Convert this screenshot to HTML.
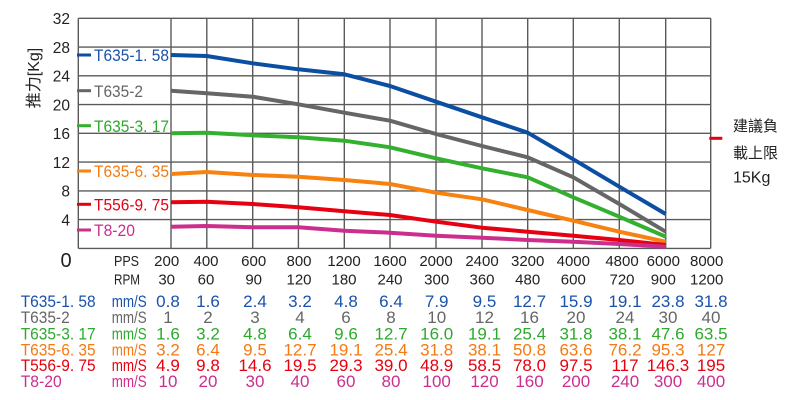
<!DOCTYPE html>
<html><head><meta charset="utf-8"><style>
html,body{margin:0;padding:0;background:#fff;}
svg{display:block;}
.tk{font-family:"Liberation Sans",Arial,sans-serif;font-size:15.5px;fill:#222;}
.ax{font-family:"Liberation Sans",Arial,sans-serif;font-size:15px;fill:#222;text-anchor:middle;}
.mono{font-family:"Liberation Sans",Arial,sans-serif;font-size:17px;}
.v{text-anchor:middle;}
</style></head><body>
<svg width="800" height="400" viewBox="0 0 800 400" xmlns="http://www.w3.org/2000/svg">
<rect width="800" height="400" fill="#fff"/>
<g stroke="#5a5a5a" stroke-width="1.4" fill="none">
<line x1="78.3" y1="18.3" x2="710.7" y2="18.3"/>
<line x1="78.3" y1="47.1" x2="710.7" y2="47.1"/>
<line x1="78.3" y1="75.8" x2="710.7" y2="75.8"/>
<line x1="78.3" y1="104.6" x2="710.7" y2="104.6"/>
<line x1="78.3" y1="133.3" x2="710.7" y2="133.3"/>
<line x1="78.3" y1="162.1" x2="710.7" y2="162.1"/>
<line x1="78.3" y1="190.9" x2="710.7" y2="190.9"/>
<line x1="78.3" y1="219.6" x2="710.7" y2="219.6"/>
<line x1="78.3" y1="248.4" x2="710.7" y2="248.4"/>
<line x1="78.3" y1="18.3" x2="78.3" y2="248.4"/>
<line x1="171" y1="18.3" x2="171" y2="248.4"/>
<line x1="206.8" y1="18.3" x2="206.8" y2="248.4"/>
<line x1="252.7" y1="18.3" x2="252.7" y2="248.4"/>
<line x1="298.4" y1="18.3" x2="298.4" y2="248.4"/>
<line x1="344.3" y1="18.3" x2="344.3" y2="248.4"/>
<line x1="390" y1="18.3" x2="390" y2="248.4"/>
<line x1="436" y1="18.3" x2="436" y2="248.4"/>
<line x1="482" y1="18.3" x2="482" y2="248.4"/>
<line x1="527.7" y1="18.3" x2="527.7" y2="248.4"/>
<line x1="573.3" y1="18.3" x2="573.3" y2="248.4"/>
<line x1="619.3" y1="18.3" x2="619.3" y2="248.4"/>
<line x1="665.7" y1="18.3" x2="665.7" y2="248.4"/>
<line x1="710.7" y1="18.3" x2="710.7" y2="248.4"/>
</g>
<!-- y ticks -->
<g class="tk" text-anchor="end">
<text x="70" y="24">32</text>
<text x="70" y="53">28</text>
<text x="70" y="81.5">24</text>
<text x="70" y="110.3">20</text>
<text x="70" y="139">16</text>
<text x="70" y="167.8">12</text>
<text x="70" y="196.6">8</text>
<text x="70" y="225.3">4</text>
</g>
<text x="66" y="267" text-anchor="middle" font-family="Liberation Sans, Arial, sans-serif" font-size="20" fill="#222">0</text>
<text transform="translate(39,78) rotate(-90)" text-anchor="middle" font-family="Liberation Sans, 'Noto Sans CJK SC', sans-serif" font-size="16" fill="#222">推力[Kg]</text>
<!-- x labels -->
<g class="ax">
<text x="126.5" y="266" textLength="25" lengthAdjust="spacingAndGlyphs">PPS</text>
<text x="127" y="284.5" textLength="26" lengthAdjust="spacingAndGlyphs">RPM</text>
<text x="166.7" y="266">200</text><text x="206" y="266">400</text><text x="253.7" y="266">600</text><text x="299" y="266">800</text>
<text x="344" y="266">1200</text><text x="390" y="266">1600</text><text x="436" y="266">2000</text><text x="482" y="266">2400</text>
<text x="527.7" y="266">3200</text><text x="573.3" y="266">4000</text><text x="622" y="266">4800</text><text x="663.3" y="266">6000</text><text x="706.7" y="266">8000</text>
<text x="166.7" y="284.5">30</text><text x="206" y="284.5">60</text><text x="253.7" y="284.5">90</text><text x="299" y="284.5">120</text>
<text x="344" y="284.5">180</text><text x="390" y="284.5">240</text><text x="436.7" y="284.5">300</text><text x="482" y="284.5">360</text>
<text x="527.7" y="284.5">480</text><text x="573.3" y="284.5">600</text><text x="622" y="284.5">720</text><text x="663.3" y="284.5">900</text><text x="706.7" y="284.5">1200</text>
</g>
<!-- series -->
<g fill="none" stroke-width="4" stroke-linejoin="round">
<polyline stroke="#0b4ea2" points="171,55 206.7,56 252.7,63.3 298.3,69.3 344.3,74.3 390,86 436,101.7 482,117.3 527.7,132.7 573.3,159.3 619.3,186.7 665.7,214"/>
<polyline stroke="#666666" points="171,90.7 206.7,93.3 252.7,96.7 298.3,104.3 344.3,112.7 390,120.7 436,134 482,146 527.7,157.3 573.3,177.3 619.3,204 665.7,231.7"/>
<polyline stroke="#33b02f" points="171,133.3 206.7,132.7 252.7,135.3 298.3,137.3 344.3,140.7 390,147.3 436,158.3 482,168.3 527.7,177.3 573.3,197.3 619.3,216.7 665.7,236.7"/>
<polyline stroke="#f7820f" points="171,174 206.7,172 252.7,175 298.3,176.7 344.3,180 390,184 436,192.7 482,199.3 527.7,210 573.3,220.7 619.3,231.7 665.7,241.7"/>
<polyline stroke="#e60012" points="171,202.3 206.7,201.7 252.7,204 298.3,207.3 344.3,211.3 390,215 436,221.7 482,227.7 527.7,231.7 573.3,235.7 619.3,240 665.7,245"/>
<polyline stroke="#cc2e8e" points="171,226.7 206.7,226 252.7,227.3 298.3,227.3 344.3,230.7 390,232.7 436,235.7 482,237.7 527.7,240 573.3,241.7 619.3,244 665.7,246.7"/>
</g>
<!-- legend dashes -->
<g stroke-width="3">
<line x1="77" y1="55" x2="91" y2="55" stroke="#0b4ea2"/>
<line x1="77" y1="90.7" x2="91" y2="90.7" stroke="#666666"/>
<line x1="77" y1="125.7" x2="91" y2="125.7" stroke="#33b02f"/>
<line x1="77" y1="171" x2="91" y2="171" stroke="#f7820f"/>
<line x1="77" y1="204.3" x2="91" y2="204.3" stroke="#e60012"/>
<line x1="77" y1="230" x2="91" y2="230" stroke="#cc2e8e"/>
<line x1="709.3" y1="138.3" x2="722.3" y2="138.3" stroke="#e60012"/>
</g>
<g class="mono">
<text x="94" y="61.2" fill="#1a52aa" textLength="75" lengthAdjust="spacingAndGlyphs">T635-1. 58</text>
<text x="94" y="96.9" fill="#666" textLength="49" lengthAdjust="spacingAndGlyphs">T635-2</text>
<text x="94" y="131.9" fill="#2ea82e" textLength="75" lengthAdjust="spacingAndGlyphs">T635-3. 17</text>
<text x="94" y="177.2" fill="#f47a12" textLength="75" lengthAdjust="spacingAndGlyphs">T635-6. 35</text>
<text x="94" y="210.5" fill="#e60012" textLength="75" lengthAdjust="spacingAndGlyphs">T556-9. 75</text>
<text x="94" y="236.2" fill="#cc2e8e" textLength="41" lengthAdjust="spacingAndGlyphs">T8-20</text>
</g>
<g font-family="'Liberation Sans','Noto Sans CJK TC',sans-serif" font-size="15" fill="#222">
<text x="733" y="131">建議負</text>
<text x="733" y="158">載上限</text>
<text x="733" y="182.5" font-size="16">15Kg</text>
</g>
<!-- table -->
<g class="mono">
<g fill="#1a52aa">
<text x="20.7" y="306.9" textLength="75" lengthAdjust="spacingAndGlyphs">T635-1. 58</text>
<text x="111.7" y="306.9" textLength="35" lengthAdjust="spacingAndGlyphs">mm/S</text>
<g class="v"><text x="168" y="306.9">0.8</text><text x="208" y="306.9">1.6</text><text x="255" y="306.9">2.4</text><text x="300" y="306.9">3.2</text><text x="346" y="306.9">4.8</text><text x="391" y="306.9">6.4</text><text x="436.7" y="306.9">7.9</text><text x="484.5" y="306.9">9.5</text><text x="529.5" y="306.9">12.7</text><text x="576" y="306.9">15.9</text><text x="625" y="306.9">19.1</text><text x="668" y="306.9">23.8</text><text x="711" y="306.9">31.8</text></g>
</g>
<g fill="#666">
<text x="20.7" y="322.9" textLength="49" lengthAdjust="spacingAndGlyphs">T635-2</text>
<text x="111.7" y="322.9" textLength="35" lengthAdjust="spacingAndGlyphs">mm/S</text>
<g class="v"><text x="168" y="322.9">1</text><text x="208" y="322.9">2</text><text x="255" y="322.9">3</text><text x="300" y="322.9">4</text><text x="346" y="322.9">6</text><text x="391" y="322.9">8</text><text x="436.7" y="322.9">10</text><text x="484.5" y="322.9">12</text><text x="529.5" y="322.9">16</text><text x="576" y="322.9">20</text><text x="625" y="322.9">24</text><text x="668" y="322.9">30</text><text x="711" y="322.9">40</text></g>
</g>
<g fill="#2ea82e">
<text x="20.7" y="339.5" textLength="75" lengthAdjust="spacingAndGlyphs">T635-3. 17</text>
<text x="111.7" y="339.5" textLength="35" lengthAdjust="spacingAndGlyphs">mm/S</text>
<g class="v"><text x="168" y="339.5">1.6</text><text x="208" y="339.5">3.2</text><text x="255" y="339.5">4.8</text><text x="300" y="339.5">6.4</text><text x="346" y="339.5">9.6</text><text x="391" y="339.5">12.7</text><text x="436.7" y="339.5">16.0</text><text x="484.5" y="339.5">19.1</text><text x="529.5" y="339.5">25.4</text><text x="576" y="339.5">31.8</text><text x="625" y="339.5">38.1</text><text x="668" y="339.5">47.6</text><text x="711" y="339.5">63.5</text></g>
</g>
<g fill="#f47a12">
<text x="20.7" y="355.5" textLength="75" lengthAdjust="spacingAndGlyphs">T635-6. 35</text>
<text x="111.7" y="355.5" textLength="35" lengthAdjust="spacingAndGlyphs">mm/S</text>
<g class="v"><text x="168" y="355.5">3.2</text><text x="208" y="355.5">6.4</text><text x="255" y="355.5">9.5</text><text x="300" y="355.5">12.7</text><text x="346" y="355.5">19.1</text><text x="391" y="355.5">25.4</text><text x="436.7" y="355.5">31.8</text><text x="484.5" y="355.5">38.1</text><text x="529.5" y="355.5">50.8</text><text x="576" y="355.5">63.6</text><text x="625" y="355.5">76.2</text><text x="668" y="355.5">95.3</text><text x="711" y="355.5">127</text></g>
</g>
<g fill="#e60012">
<text x="20.7" y="371.2" textLength="75" lengthAdjust="spacingAndGlyphs">T556-9. 75</text>
<text x="111.7" y="371.2" textLength="35" lengthAdjust="spacingAndGlyphs">mm/S</text>
<g class="v"><text x="168" y="371.2">4.9</text><text x="208" y="371.2">9.8</text><text x="255" y="371.2">14.6</text><text x="300" y="371.2">19.5</text><text x="346" y="371.2">29.3</text><text x="391" y="371.2">39.0</text><text x="436.7" y="371.2">48.9</text><text x="484.5" y="371.2">58.5</text><text x="529.5" y="371.2">78.0</text><text x="576" y="371.2">97.5</text><text x="625" y="371.2">117</text><text x="668" y="371.2">146.3</text><text x="711" y="371.2">195</text></g>
</g>
<g fill="#cc2e8e">
<text x="20.7" y="386.9" textLength="41" lengthAdjust="spacingAndGlyphs">T8-20</text>
<text x="111.7" y="386.9" textLength="35" lengthAdjust="spacingAndGlyphs">mm/S</text>
<g class="v"><text x="168" y="386.9">10</text><text x="208" y="386.9">20</text><text x="255" y="386.9">30</text><text x="300" y="386.9">40</text><text x="346" y="386.9">60</text><text x="391" y="386.9">80</text><text x="436.7" y="386.9">100</text><text x="484.5" y="386.9">120</text><text x="529.5" y="386.9">160</text><text x="576" y="386.9">200</text><text x="625" y="386.9">240</text><text x="668" y="386.9">300</text><text x="711" y="386.9">400</text></g>
</g>
</g>
</svg>
</body></html>
